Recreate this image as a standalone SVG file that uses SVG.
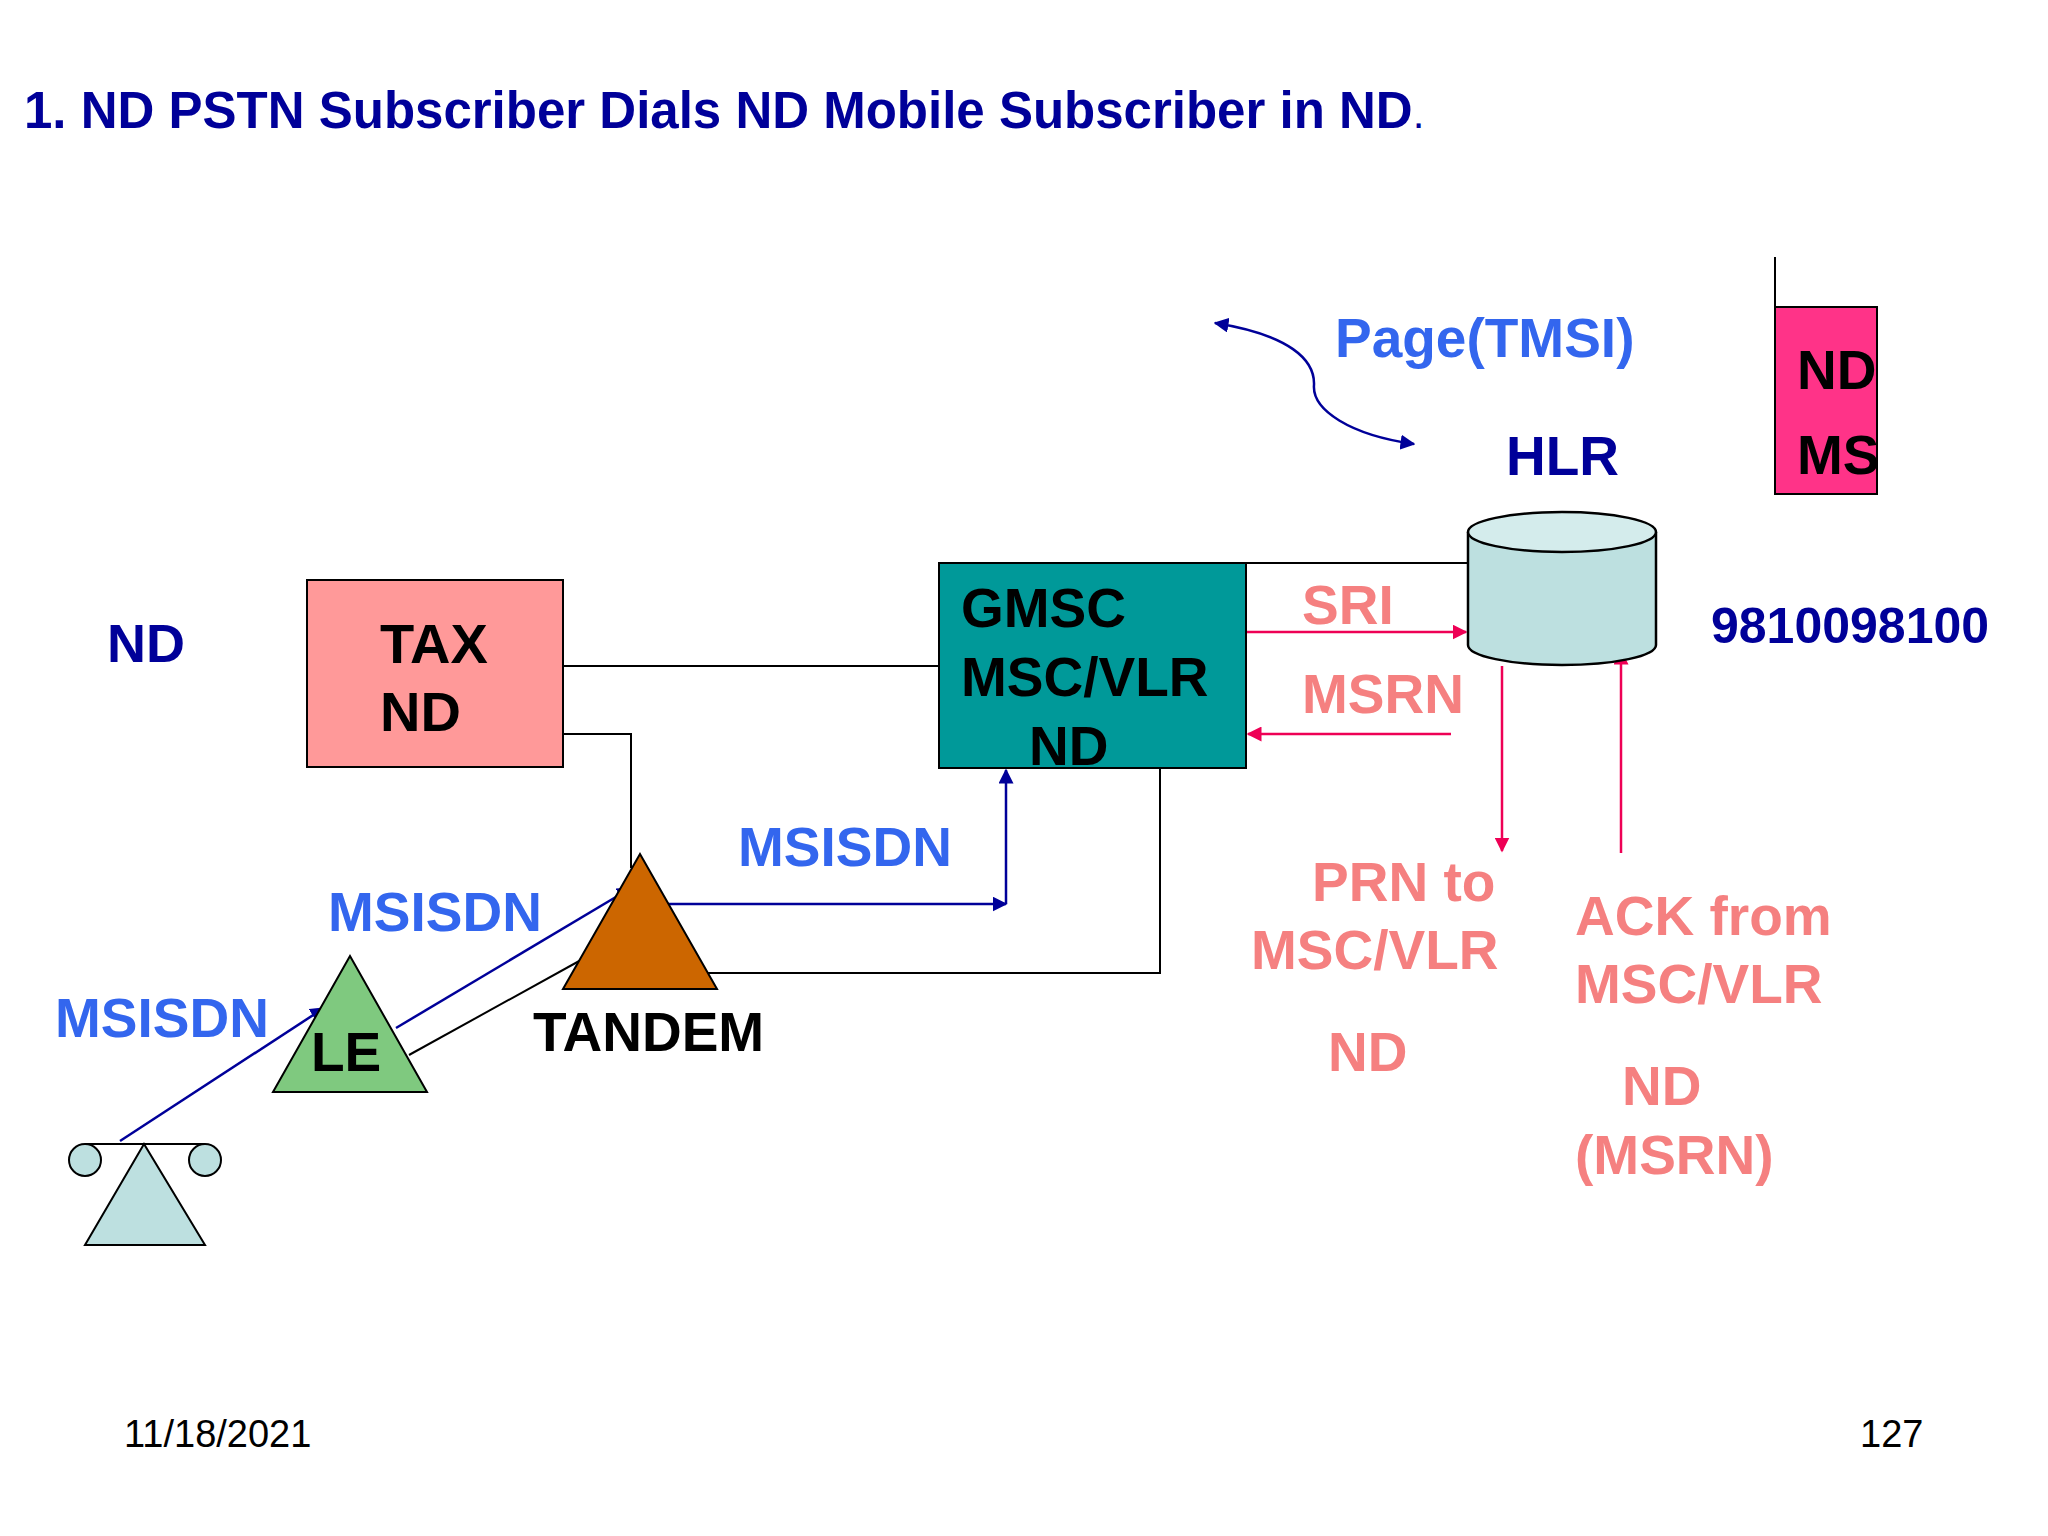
<svg xmlns="http://www.w3.org/2000/svg" width="2048" height="1536" viewBox="0 0 2048 1536">
<defs>
<style>
text{font-family:"Liberation Sans",Arial,sans-serif;font-weight:bold}
.blk{stroke:#000;stroke-width:2;fill:none}
.nv{stroke:#000099;stroke-width:2.5;fill:none}
.pk{stroke:#ee0055;stroke-width:2.5;fill:none}
.sal{fill:#f58080;font-size:55px}
.msi{fill:#3366ee;font-size:55px}
.dk{fill:#000099}
</style>
<marker id="an" viewBox="0 0 10 10" refX="9" refY="5" markerWidth="6" markerHeight="6" orient="auto-start-reverse" markerUnits="strokeWidth"><path d="M0,0 L10,5 L0,10z" fill="#000099"/></marker>
<marker id="ap" viewBox="0 0 10 10" refX="9" refY="5" markerWidth="6" markerHeight="6" orient="auto" markerUnits="strokeWidth"><path d="M0,0 L10,5 L0,10z" fill="#ee0055"/></marker>
</defs>
<rect width="2048" height="1536" fill="#fff"/>
<text x="24" y="128" font-size="51" class="dk">1. ND PSTN Subscriber Dials ND Mobile Subscriber in ND<tspan style="font-weight:normal" font-size="42">.</tspan></text>

<g id="connectors">
<path class="blk" d="M563,666 H939"/>
<path class="blk" d="M563,734 H631 V868"/>
<path class="blk" d="M699,973 H1160 V768"/>
<path class="blk" d="M1246,563 H1468"/>
<path class="blk" d="M409,1055 L581,960"/>
<path class="blk" d="M1775,307 V257"/>
<path class="nv" d="M120,1141 L324,1008" marker-end="url(#an)"/>
<path class="nv" d="M396,1028 L631,888" marker-end="url(#an)"/>
<path class="nv" d="M666,904 H1006" marker-end="url(#an)"/>
<path class="nv" d="M1006,904 V770" marker-end="url(#an)"/>
<path class="nv" d="M1215,323 C1290,335 1315,360 1314,385 C1312,410 1350,435 1414,444" marker-start="url(#an)" marker-end="url(#an)"/>
<path class="pk" d="M1246,632 H1466" marker-end="url(#ap)"/>
<path class="pk" d="M1451,734 H1248" marker-end="url(#ap)"/>
<path class="pk" d="M1502,666 V851" marker-end="url(#ap)"/>
<path class="pk" d="M1621,853 V651" marker-end="url(#ap)"/>
</g>

<g id="tax"><rect x="307" y="580" width="256" height="187" fill="#ff9999" stroke="#000" stroke-width="2"/>
<text x="380" y="663" font-size="56">TAX</text><text x="380" y="731" font-size="56">ND</text></g>
<g id="gmsc"><rect x="939" y="563" width="307" height="205" fill="#009999" stroke="#000" stroke-width="2"/>
<text x="961" y="627" font-size="55">GMSC</text><text x="961" y="696" font-size="55">MSC/VLR</text><text x="1029" y="765" font-size="55">ND</text></g>
<g id="hlr"><path d="M1468,532 V645 A94,20 0 0 0 1656,645 V532" fill="#bde0e0" stroke="#000" stroke-width="2.5"/>
<ellipse cx="1562" cy="532" rx="94" ry="20" fill="#d4ecec" stroke="#000" stroke-width="2.5"/>
<text x="1506" y="475" font-size="55" class="dk">HLR</text></g>
<g id="ms"><rect x="1775" y="307" width="102" height="187" fill="#ff3388" stroke="#000" stroke-width="2"/>
<text x="1797" y="389" font-size="55">ND</text><text x="1797" y="474" font-size="55">MS</text></g>
<g id="le"><polygon points="350,956 273,1092 427,1092" fill="#7fc97f" stroke="#000" stroke-width="2"/>
<text x="311" y="1071" font-size="55">LE</text></g>
<g id="tandem"><polygon points="640,854 563,989 717,989" fill="#cc6600" stroke="#000" stroke-width="2"/>
<text x="533" y="1051" font-size="55">TANDEM</text></g>
<g id="phone"><polygon points="144,1144 85,1245 205,1245" fill="#bde0e0" stroke="#000" stroke-width="2"/>
<circle cx="85" cy="1160" r="16" fill="#bde0e0" stroke="#000" stroke-width="2"/>
<circle cx="205" cy="1160" r="16" fill="#bde0e0" stroke="#000" stroke-width="2"/>
<path class="blk" d="M85,1144 H205"/></g>

<text x="107" y="662" font-size="54" class="dk">ND</text>
<text x="1711" y="643" font-size="50" class="dk">9810098100</text>
<text x="1335" y="357" font-size="55" fill="#3366ee">Page(TMSI)</text>
<text x="1302" y="624" class="sal">SRI</text>
<text x="1302" y="713" class="sal">MSRN</text>
<text x="738" y="866" class="msi">MSISDN</text>
<text x="328" y="931" class="msi">MSISDN</text>
<text x="55" y="1037" class="msi">MSISDN</text>
<text x="1312" y="901" class="sal">PRN to</text>
<text x="1251" y="969" class="sal">MSC/VLR</text>
<text x="1328" y="1071" class="sal">ND</text>
<text x="1575" y="935" class="sal">ACK from</text>
<text x="1575" y="1003" class="sal">MSC/VLR</text>
<text x="1622" y="1105" class="sal">ND</text>
<text x="1575" y="1174" class="sal">(MSRN)</text>
<text x="124" y="1447" font-size="38" style="font-weight:normal">11/18/2021</text>
<text x="1860" y="1447" font-size="38" style="font-weight:normal">127</text>
</svg>
